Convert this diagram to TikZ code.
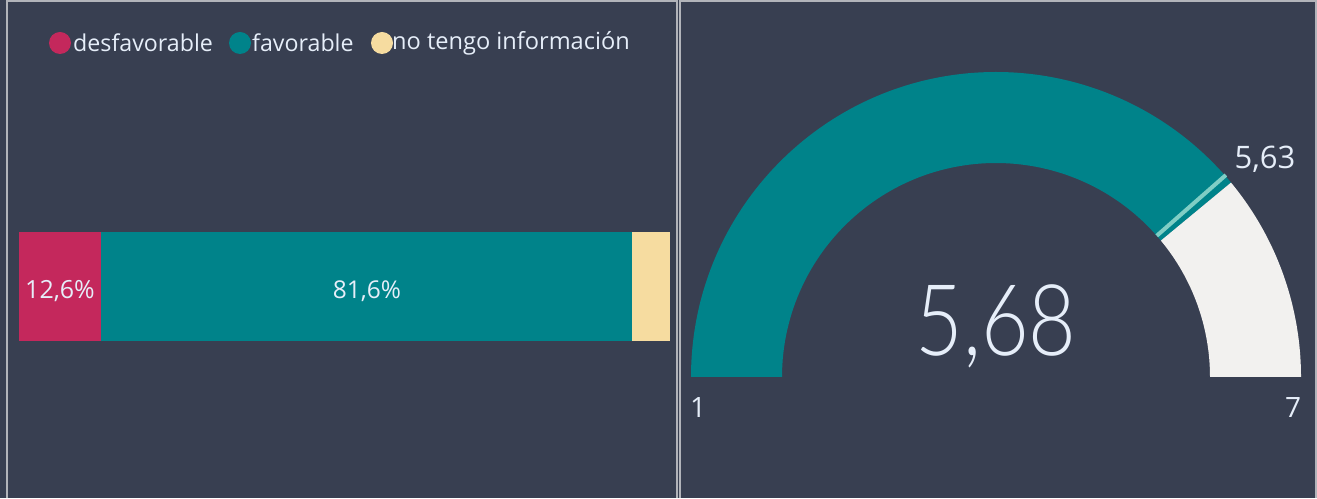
\documentclass[tikz,border=0pt]{standalone}
\usepackage{fontspec}
\usetikzlibrary{calc}
\setmainfont{Open Sans}
\IfFontExistsTF{Lato Light}{\newfontfamily\bigfont{Lato Light}}{\IfFontExistsTF{Open Sans Light}{\newfontfamily\bigfont{Open Sans Light}}{\newfontfamily\bigfont{Open Sans}}}
\definecolor{bg}{HTML}{383F51}
\definecolor{bord}{HTML}{B2B4BA}
\definecolor{redc}{HTML}{C4285C}
\definecolor{tealc}{HTML}{00838A}
\definecolor{yelc}{HTML}{F6DCA0}
\definecolor{restc}{HTML}{F2F1EF}
\definecolor{markc}{HTML}{80CEC5}
\definecolor{txt}{HTML}{E6EEF9}
\tikzset{
  lbl/.style={text=txt, inner sep=0pt},
  dot/.style={circle, minimum size=22pt, inner sep=0pt},
  bord/.style={draw=bord, line width=2pt}
}
\begin{document}
\begin{tikzpicture}[x=1pt,y=1pt]
\fill[bg] (0,0) rectangle (1317,498);
\useasboundingbox (0,0) rectangle (1317,498);
% panel borders
\draw[bord] (7,0) -- (7,497) -- (677,497) -- (677,0);
\draw[bord] (680,0) -- (680,497) -- (1316,497) -- (1316,0);
% legend
\node[dot, fill=redc] (d1) at (60,455) {};
\node[lbl, anchor=west, font=\fontsize{23.2}{26}\selectfont] (l1) at (73,455) {desfavorable};
\node[dot, fill=tealc] (d2) at (240,455) {};
\node[lbl, anchor=west, font=\fontsize{23.2}{26}\selectfont] (l2) at (252,455) {favorable};
\node[dot, fill=yelc] (d3) at (382,455) {};
\node[lbl, anchor=west, font=\fontsize{23.6}{26}\selectfont] (l3) at (392,455) {no tengo información};
% bar
\fill[redc] (19,157) rectangle (101,266);
\fill[tealc] (101,157) rectangle (632,266);
\fill[yelc] (632,157) rectangle (670,266);
\node[lbl, font=\fontsize{25}{28}\selectfont] (p1) at (60,207) {12,6\%};
\node[lbl, font=\fontsize{24.5}{28}\selectfont] (p2) at (367,207) {81,6\%};
% gauge
\coordinate (c) at (996,121);
\fill[tealc] ($(c)+(180:305)$) arc[start angle=180, end angle=39.6, radius=305]
  -- ($(c)+(39.6:214)$) arc[start angle=39.6, end angle=180, radius=214] -- cycle;
\fill[restc] ($(c)+(39.6:305)$) arc[start angle=39.6, end angle=0, radius=305]
  -- ($(c)+(0:214)$) arc[start angle=0, end angle=39.6, radius=214] -- cycle;
\draw[markc, line width=4pt] ($(c)+(41.3:214)$) -- ($(c)+(41.3:306)$);
\node[lbl, font=\fontsize{31}{34}\selectfont] (t) at (1265,339) {5,63};
\node[lbl, font=\fontsize{28}{32}\selectfont] (mn) at (698,90) {1};
\node[lbl, font=\fontsize{28}{32}\selectfont] (mx) at (1293,90) {7};
\node[lbl, font=\bigfont\fontsize{99}{104}\selectfont] (v) at (996,172) {\scalebox{0.83}[1]{5,68}};
\end{tikzpicture}
\end{document}
